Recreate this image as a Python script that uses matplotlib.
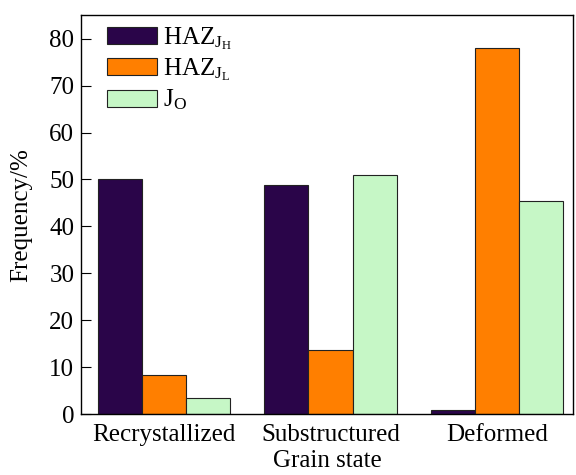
import matplotlib
matplotlib.use('Agg')
import matplotlib.pyplot as plt
import numpy as np

plt.rcParams['font.family'] = 'Liberation Serif'
plt.rcParams['mathtext.fontset'] = 'stix'

# data
categories = ['Recrystallized', 'Substructured', 'Deformed']
haz_jh = [50.2, 48.9, 0.8]
haz_jl = [8.3, 13.6, 78.0]
j_o = [3.4, 51.0, 45.5]
labels = [r'HAZ$_{\mathregular{J_H}}$', r'HAZ$_{\mathregular{J_L}}$', r'J$_{\mathregular{O}}$']
colors = ['#2a0549', '#ff7f00', '#c6f7c6']

fig = plt.figure(figsize=(5.76, 4.75), dpi=100)
ax = fig.add_axes([0.141, 0.128, 0.854, 0.84])

x = np.arange(len(categories))
w = 0.265
for i, (vals, lab, c) in enumerate(zip([haz_jh, haz_jl, j_o], labels, colors)):
    ax.bar(x + (i - 1) * w, vals, w, color=c, edgecolor='#222222', linewidth=0.8, label=lab)

ax.set_xlim(-0.5, 2.46)
ax.set_ylim(0, 85)
ax.set_yticks(range(0, 81, 10))
ax.set_xticks(x)
ax.set_xticklabels(categories, fontsize=18)
ax.tick_params(axis='x', length=0, pad=7)
ax.tick_params(axis='y', direction='in', length=7, labelsize=18, pad=5)
ax.set_xlabel('Grain state', fontsize=18, labelpad=3)
ax.set_ylabel('Frequency/%', fontsize=18, labelpad=12)
for s in ax.spines.values():
    s.set_linewidth(1.0)

ax.legend(loc='upper left', bbox_to_anchor=(0.012, 1.025), frameon=False, fontsize=18,
          handlelength=2.0, handleheight=0.68, handletextpad=0.25, labelspacing=0.18,
          borderpad=0.3)

plt.savefig('out.png', dpi=100)
